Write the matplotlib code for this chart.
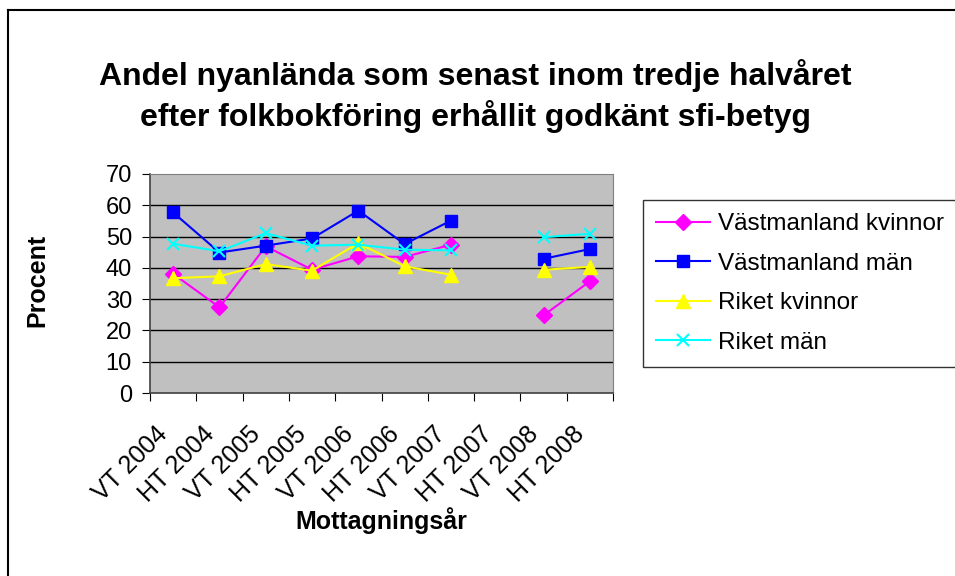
import numpy as np
import matplotlib.pyplot as plt
from matplotlib.lines import Line2D
from matplotlib.transforms import ScaledTranslation, blended_transform_factory

plt.rcParams['font.family'] = ['Liberation Sans', 'DejaVu Sans']

categories = ['VT 2004', 'HT 2004', 'VT 2005', 'HT 2005', 'VT 2006',
              'HT 2006', 'VT 2007', 'HT 2007', 'VT 2008', 'HT 2008']

vastmanland_kvinnor = [38.1, 27.4, 46.9, 39.4, 43.7, 43.5, 47.4, np.nan, 24.8, 35.7]
vastmanland_man = [57.7, 44.9, 47.1, 49.4, 58.3, 47.6, 55.1, np.nan, 42.9, 46.0]
riket_kvinnor = [36.7, 37.3, 41.2, 39.1, 47.9, 40.5, 37.8, np.nan, 39.4, 40.3]
riket_man = [47.7, 45.3, 51.1, 47.1, 47.4, 45.8, 45.6, np.nan, 49.8, 50.9]

fig = plt.figure(figsize=(9.55, 5.76), dpi=100)
ax = fig.add_axes([150 / 955, 1 - 393 / 576, (613 - 150) / 955, (393 - 174) / 576])
ax.set_facecolor('#C0C0C0')

x = np.arange(len(categories))

# series
ax.plot(x, vastmanland_kvinnor, color='#FF00FF', marker='D', markersize=8, lw=1.5,
        label='Västmanland kvinnor')
ax.plot(x, vastmanland_man, color='#0000FF', marker='s', markersize=8.5, lw=1.5,
        label='Västmanland män')
ax.plot(x, riket_kvinnor, color='#FFFF00', marker='^', markersize=10, lw=1.5,
        label='Riket kvinnor')
ax.plot(x, riket_man, color='#00FFFF', marker='x', markersize=9, mew=1.5, lw=1.5,
        label='Riket män')

ax.set_xlim(-0.5, len(categories) - 0.5)
ax.set_ylim(0, 70)
ax.set_yticks(range(0, 71, 10))
for yv in range(10, 70, 10):
    ax.axhline(yv, color='black', lw=1, zorder=0.5)

# ticks at category borders, labels at centres
ax.set_xticks(np.arange(-0.5, len(categories), 1))
ax.set_xticklabels([])
ax.set_xticks(x, minor=True)
ax.set_xticklabels(categories, minor=True, rotation=45, ha='right', va='center',
                   rotation_mode='anchor', fontsize=18)
ax.tick_params(axis='x', which='minor', length=0, pad=27)
ax.tick_params(axis='x', which='major', length=6, direction='out')
ax.tick_params(axis='y', length=6, direction='out', labelsize=17, pad=7)
shift = ScaledTranslation(-9 / 100, 0, fig.dpi_scale_trans)
for lbl in ax.get_xticklabels(minor=True):
    lbl.set_transform(lbl.get_transform() + shift)

for s in ['top', 'right']:
    ax.spines[s].set_color('#808080')
for s in ['left', 'bottom']:
    ax.spines[s].set_color('#404040')
    ax.spines[s].set_linewidth(1.2)

ax.set_ylabel('Procent', fontsize=18, fontweight='bold')
ax.yaxis.set_label_coords(37 / 955, 1 - 280 / 576, transform=fig.transFigure)
ax.yaxis.label.set_va('center')
ax.set_xlabel('Mottagningsår', fontsize=18, fontweight='bold')
ax.xaxis.set_label_coords(0.5, 1 - 521 / 576,
                          transform=blended_transform_factory(ax.transAxes, fig.transFigure))
ax.xaxis.label.set_va('center')

fig.text(475 / 955, 1 - 96 / 576,
         'Andel nyanlända som senast inom tredje halvåret\nefter folkbokföring erhållit godkänt sfi-betyg',
         ha='center', va='center', fontsize=23, fontweight='bold', linespacing=1.32)

leg = fig.legend(loc='upper left', bbox_to_anchor=(643 / 955, 1 - 200 / 576),
                 fontsize=17.5, frameon=True, fancybox=False, edgecolor='black',
                 handlelength=2.2, labelspacing=0.72, borderpad=0.55, handletextpad=0.35,
                 borderaxespad=0)
leg.get_frame().set_linewidth(1)

# outer chart border
fig.add_artist(Line2D([7.5 / 955, 7.5 / 955], [0, 1 - 10 / 576], color='black', lw=1.5))
fig.add_artist(Line2D([7.5 / 955, 1], [1 - 10 / 576, 1 - 10 / 576], color='black', lw=1.5))

fig.savefig('out.png', dpi=100)
